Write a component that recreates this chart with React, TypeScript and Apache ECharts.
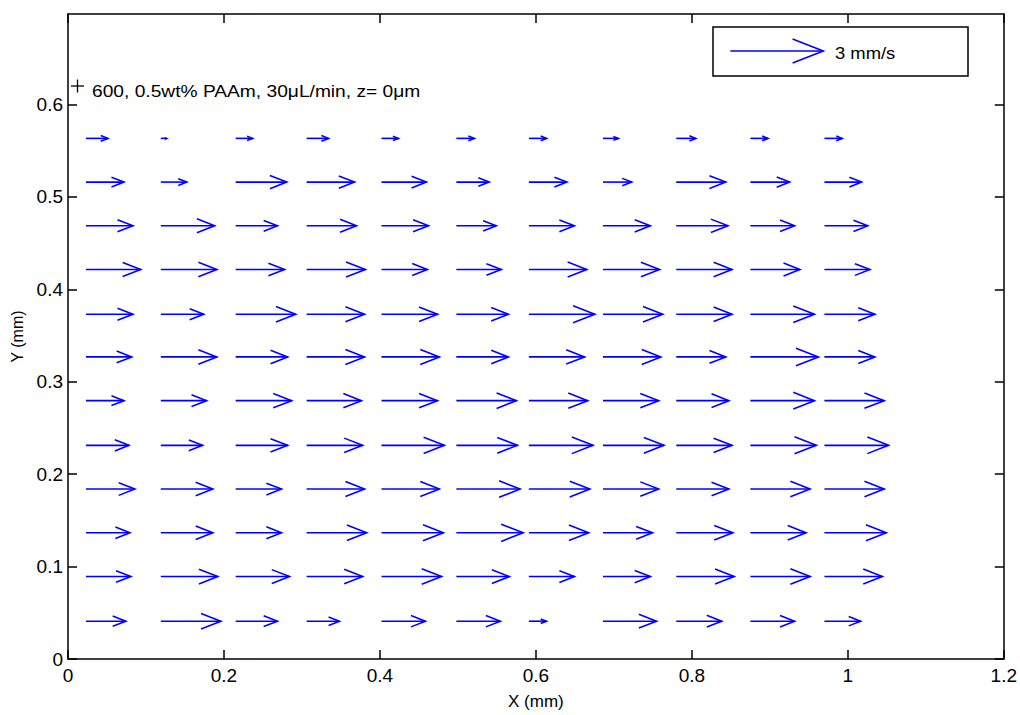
import React, { useEffect, useRef } from "react";
import * as echarts from "echarts";

// Grid of arrow tail positions (mm)
const colX = [0.023, 0.119, 0.215, 0.306, 0.402, 0.498, 0.591, 0.686, 0.78, 0.875, 0.97];
const rowY = [0.5634, 0.5161, 0.4688, 0.4215, 0.3731, 0.3269, 0.2796, 0.2312, 0.1839, 0.1366, 0.0892, 0.0409];

// Horizontal velocity u (mm/s) for each row, top to bottom
const uRow1 = [0.71, 0.19, 0.55, 0.71, 0.55, 0.58, 0.57, 0.5, 0.63, 0.57, 0.57];
const uRow2 = [1.23, 0.84, 1.65, 1.55, 1.45, 1.06, 1.23, 0.93, 1.6, 1.27, 1.2];
const uRow3 = [1.52, 1.74, 1.35, 1.61, 1.52, 1.29, 1.47, 1.53, 1.67, 1.43, 1.4];
const uRow4 = [1.77, 1.81, 1.58, 1.9, 1.48, 1.45, 1.87, 1.83, 1.8, 1.6, 1.47];
const uRow5 = [1.52, 1.39, 1.94, 1.87, 1.81, 1.68, 2.13, 1.93, 1.8, 2.07, 1.63];
const uRow6 = [1.48, 1.81, 1.68, 1.87, 1.87, 1.68, 1.8, 1.87, 1.6, 2.2, 1.63];
const uRow7 = [1.23, 1.48, 1.81, 1.77, 1.81, 1.94, 1.9, 1.8, 1.7, 2.07, 1.93];
const uRow8 = [1.39, 1.35, 1.68, 1.81, 2.03, 1.97, 2.07, 1.97, 1.8, 2.13, 2.07];
const uRow9 = [1.58, 1.68, 1.48, 1.87, 1.87, 2.06, 1.97, 1.8, 1.7, 1.93, 1.93];
const uRow10 = [1.42, 1.68, 1.48, 1.94, 2.0, 2.16, 1.93, 1.6, 1.83, 1.8, 2.0];
const uRow11 = [1.45, 1.84, 1.74, 1.81, 1.94, 1.71, 1.47, 1.53, 1.87, 1.93, 1.87];
const uRow12 = [1.29, 1.94, 1.35, 1.06, 1.42, 1.42, 0.57, 1.73, 1.47, 1.43, 1.17];
const uRows = [uRow1, uRow2, uRow3, uRow4, uRow5, uRow6, uRow7, uRow8, uRow9, uRow10, uRow11, uRow12];

const xTicks = [0, 0.2, 0.4, 0.6, 0.8, 1, 1.2];
const yTicks = [0, 0.1, 0.2, 0.3, 0.4, 0.5, 0.6];

const legendSpeed = 3; // mm/s
const legendLabel = "3 mm/s";
const legendAnchor = [0.8494, 0.658];
const annotation = "600, 0.5wt% PAAm, 30μL/min, z= 0μm";

const QUIVER_SCALE = 0.0397; // mm of arrow per mm/s
const FONT = "Liberation Sans, Arial, Helvetica, sans-serif";
const BLUE = "#0000ff";

const fmt = (v: number) => String(+Number(v).toFixed(2));

function renderArrow(params: any, api: any) {
  const x = api.value(0);
  const y = api.value(1);
  const u = api.value(2) * QUIVER_SCALE;
  const v = api.value(3) * QUIVER_SCALE + 1e-9;
  const alpha = 0.33;
  const beta = 0.33;
  const tip = [x + u, y + v];
  const h1 = [x + u - alpha * (u + beta * v), y + v - alpha * (v - beta * u)];
  const h2 = [x + u - alpha * (u - beta * v), y + v - alpha * (v + beta * u)];
  const style = { stroke: BLUE, lineWidth: 1.6, fill: null };
  return {
    type: "group",
    children: [
      { type: "polyline", shape: { points: [api.coord([x, y]), api.coord(tip)] }, style },
      { type: "polyline", shape: { points: [api.coord(h1), api.coord(tip), api.coord(h2)] }, style },
    ],
  };
}

export default function App() {
  const ref = useRef<HTMLDivElement>(null);
  useEffect(() => {
    if (!ref.current) return;
    const chart = echarts.init(ref.current, null, { renderer: "svg" });

    const arrows: number[][] = [];
    uRows.forEach((row, ri) => {
      row.forEach((u, ci) => {
        arrows.push([colX[ci], rowY[ri], u, 0]);
      });
    });

    const axisLine = { show: true, onZero: false, lineStyle: { color: "#000", width: 1.5 } };
    const tickStyle = { color: "#000", width: 1.5 };
    const labelStyle = { color: "#000", fontSize: 19, fontFamily: FONT };

    chart.setOption({
      animation: false,
      backgroundColor: "#fff",
      grid: { left: 68, right: 14, top: 14, bottom: 51, containLabel: false },
      xAxis: [
        {
          type: "value",
          min: 0,
          max: 1.2,
          interval: 0.2,
          position: "bottom",
          axisLine,
          axisTick: { show: true, inside: true, length: 9, lineStyle: tickStyle, customValues: xTicks },
          axisLabel: { ...labelStyle, margin: 7, formatter: fmt, customValues: xTicks },
          splitLine: { show: false },
          name: "X (mm)",
          nameLocation: "middle",
          nameGap: 34,
          nameTextStyle: { color: "#000", fontSize: 17, fontFamily: FONT },
        },
        {
          type: "value",
          min: 0,
          max: 1.2,
          interval: 0.2,
          position: "top",
          axisLine,
          axisTick: { show: true, inside: true, length: 9, lineStyle: tickStyle, customValues: xTicks },
          axisLabel: { show: false },
          splitLine: { show: false },
        },
      ],
      yAxis: [
        {
          type: "value",
          min: 0,
          max: 0.698,
          interval: 0.1,
          position: "left",
          axisLine,
          axisTick: { show: true, inside: true, length: 9, lineStyle: tickStyle, customValues: yTicks },
          axisLabel: { ...labelStyle, margin: 5, formatter: fmt, customValues: yTicks },
          splitLine: { show: false },
          name: "Y (mm)",
          nameLocation: "middle",
          nameGap: 40,
          nameTextStyle: { color: "#000", fontSize: 16, fontFamily: FONT },
        },
        {
          type: "value",
          min: 0,
          max: 0.698,
          interval: 0.1,
          position: "right",
          axisLine,
          axisTick: { show: true, inside: true, length: 9, lineStyle: tickStyle, customValues: yTicks },
          axisLabel: { show: false },
          splitLine: { show: false },
        },
      ],
      graphic: [
        {
          type: "rect",
          z: 1,
          shape: { x: 713, y: 27, width: 255, height: 49 },
          style: { fill: "#fff", stroke: "#000", lineWidth: 1.5 },
        },
        {
          type: "text",
          z: 10,
          x: 835,
          y: 53,
          scaleX: 1.15,
          style: {
            text: legendLabel,
            fill: "#000",
            fontSize: 16,
            fontFamily: FONT,
            verticalAlign: "middle",
            textAlign: "left",
          },
        },
        {
          type: "line",
          z: 10,
          shape: { x1: 71, y1: 86, x2: 84, y2: 86 },
          style: { stroke: "#000", lineWidth: 1.3 },
        },
        {
          type: "line",
          z: 10,
          shape: { x1: 77.5, y1: 79.5, x2: 77.5, y2: 92.5 },
          style: { stroke: "#000", lineWidth: 1.3 },
        },
        {
          type: "text",
          z: 10,
          x: 92,
          y: 92,
          scaleX: 1.2,
          style: {
            text: annotation,
            fill: "#000",
            fontSize: 16,
            fontFamily: FONT,
            verticalAlign: "middle",
            textAlign: "left",
          },
        },
      ],
      series: [
        {
          type: "custom",
          name: "velocity",
          xAxisIndex: 0,
          yAxisIndex: 0,
          z: 5,
          silent: true,
          clip: false,
          dimensions: ["x", "y", "u", "v"],
          encode: { x: 0, y: 1 },
          renderItem: renderArrow,
          data: arrows,
        },
        {
          type: "custom",
          name: "legend",
          xAxisIndex: 0,
          yAxisIndex: 0,
          z: 5,
          silent: true,
          clip: false,
          dimensions: ["x", "y", "u", "v"],
          encode: { x: 0, y: 1 },
          renderItem: renderArrow,
          data: [[legendAnchor[0], legendAnchor[1], legendSpeed, 0]],
        },
      ],
    });
    return () => chart.dispose();
  }, []);
  return (
    <div
      ref={ref}
      style={{ position: "absolute", left: 0, top: 0, width: 1020, height: 715, background: "#fff" }}
    />
  );
}
